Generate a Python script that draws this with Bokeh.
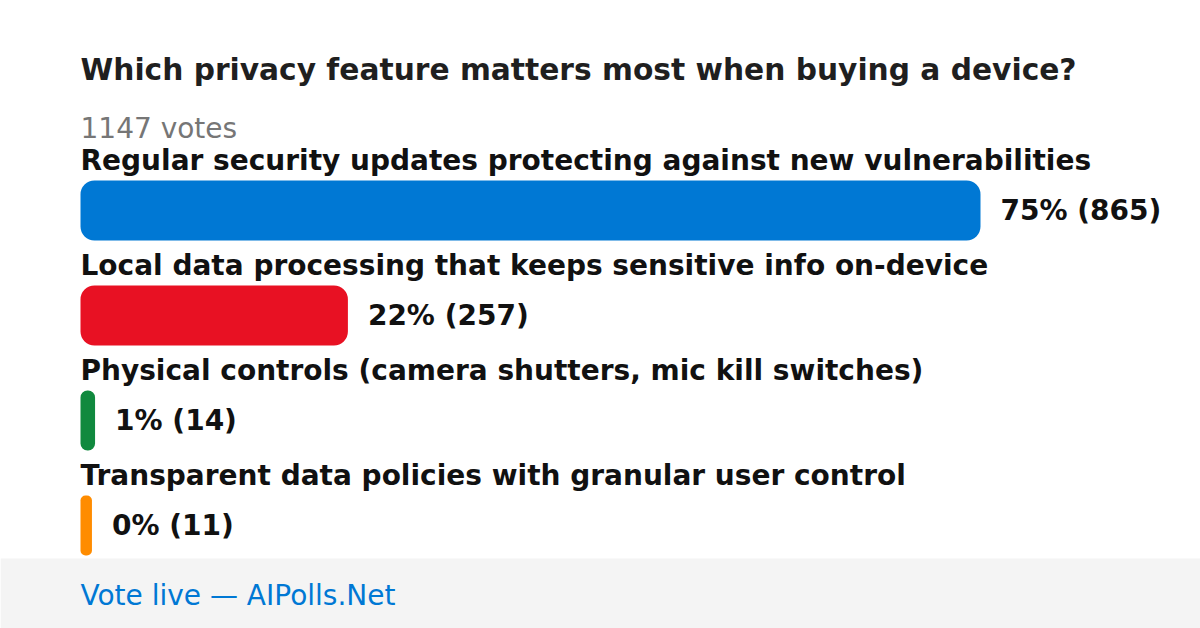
from bokeh.plotting import figure
from bokeh.models import Range1d, Label, BoxAnnotation
from bokeh.embed import file_html
from bokeh.resources import INLINE

title = "Which privacy feature matters most when buying a device?"
total_votes = 1147
options = [
    "Regular security updates protecting against new vulnerabilities",
    "Local data processing that keeps sensitive info on-device",
    "Physical controls (camera shutters, mic kill switches)",
    "Transparent data policies with granular user control",
]
votes = [865, 257, 14, 11]
percents = [75, 22, 1, 0]
colors = ["#0078d4", "#e81123", "#10893e", "#ff8c00"]
footer = "Vote live \u2014 AIPolls.Net"

W, H = 1200, 628
LEFT = 80          # left edge of the bars in pixels
BAR_PX = 900       # pixel length of the longest bar
vmax = max(votes)
per_px = vmax / BAR_PX

p = figure(width=W, height=H, output_backend="svg", toolbar_location=None,
           x_range=Range1d(-LEFT * per_px, (W - LEFT) * per_px),
           y_range=Range1d(H, 0),
           x_axis_type=None, y_axis_type=None, min_border=0,
           outline_line_color=None)
p.grid.visible = False
p.background_fill_color = "white"
p.border_fill_color = "white"

FONT = "DejaVu Sans"

p.add_layout(Label(x=LEFT, y=69, x_units="screen", text=title, text_font=FONT,
                   text_font_size="29.7px", text_font_style="bold",
                   text_color="#1f1f1f", text_baseline="alphabetic"))
p.add_layout(Label(x=LEFT, y=128, x_units="screen", text=f"{total_votes} votes",
                   text_font=FONT, text_font_size="28px", text_color="#767676",
                   text_baseline="alphabetic"))

ROW0 = 160
PITCH = 105
BAR0 = 210
for i, (opt, v, pc, c) in enumerate(zip(options, votes, percents, colors)):
    base = ROW0 + i * PITCH
    center = BAR0 + i * PITCH
    p.add_layout(Label(x=LEFT, y=base, x_units="screen", text=opt, text_font=FONT,
                       text_font_size="28px", text_font_style="bold",
                       text_color="#111111", text_baseline="alphabetic"))
    bar_px = v / per_px
    r = int(min(14, bar_px / 2))
    p.hbar(y=[center], left=[0], right=[v], height=60, fill_color=c,
           line_color=None, border_radius=r)
    p.add_layout(Label(x=v, y=center, x_offset=20, text=f"{pc}% ({v})",
                       text_font=FONT, text_font_size="28px", text_font_style="bold",
                       text_color="#111111", text_baseline="middle"))

p.add_layout(BoxAnnotation(top=558, bottom=H, fill_color="#f4f4f4", fill_alpha=1.0,
                           line_color=None))
p.add_layout(Label(x=LEFT, y=595, x_units="screen", text=footer, text_font=FONT,
                   text_font_size="28px", text_color="#0078d4",
                   text_baseline="alphabetic"))

open("out.html", "w").write(file_html(p, INLINE))
